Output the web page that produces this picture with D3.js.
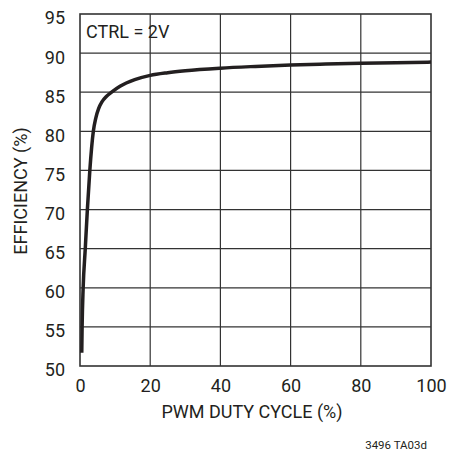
<!DOCTYPE html>
<html><head><meta charset="utf-8">
<script src="https://cdn.jsdelivr.net/npm/d3@7"></script>
<style>
body{margin:0;background:#fff;}
text{font-family:"Liberation Sans Narrow","Roboto","Liberation Sans",sans-serif;fill:#231f20;}
</style></head>
<body><svg id="c" width="451" height="453"></svg>
<script>
const xTicks = [0, 20, 40, 60, 80, 100];
const yTicks = [50, 55, 60, 65, 70, 75, 80, 85, 90, 95];
const duty = [0.5, 0.6, 0.9, 1.5, 2.1, 2.8, 3.8, 4.5, 5.3, 6.3, 7.5, 9, 11.4, 15.6, 20, 25, 30, 40, 50, 60, 70, 80, 90, 100];
const efficiency = [51.7, 55, 60, 65, 70, 75, 80, 81.7, 82.9, 83.8, 84.45, 85.0, 85.75, 86.6, 87.15, 87.5, 87.75, 88.08, 88.3, 88.48, 88.6, 88.7, 88.78, 88.85];
const annotation = "CTRL = 2V";
const xTitle = "PWM DUTY CYCLE (%)";
const yTitle = "EFFICIENCY (%)";
const code = "3496 TA03d";

const svg = d3.select("#c");
const L = 80, R = 431, T = 14, B = 366;
const x = d3.scaleLinear().domain([0, 100]).range([L, R]);
const y = d3.scaleLinear().domain([50, 95]).range([B, T]);

const g = svg.append("g");
g.selectAll(".vg").data(xTicks.slice(1, -1)).enter().append("line")
  .attr("x1", d => x(d)).attr("x2", d => x(d)).attr("y1", T).attr("y2", B)
  .attr("stroke", "#333").attr("stroke-width", 1.2);
g.selectAll(".hg").data(yTicks.slice(1, -1)).enter().append("line")
  .attr("x1", L).attr("x2", R).attr("y1", d => y(d)).attr("y2", d => y(d))
  .attr("stroke", "#333").attr("stroke-width", 1.2);
g.append("rect").attr("x", L).attr("y", T).attr("width", R - L).attr("height", B - T)
  .attr("fill", "none").attr("stroke", "#333").attr("stroke-width", 1.6);

const xa = svg.append("g").attr("transform", `translate(0,${B})`)
  .call(d3.axisBottom(x).tickValues(xTicks).tickSize(0).tickPadding(13).tickFormat(d3.format("d")));
xa.select(".domain").remove();
xa.selectAll("text").style("font-size", "18px").style("font-family", null);
const ya = svg.append("g").attr("transform", `translate(${L},0)`)
  .call(d3.axisLeft(y).tickValues(yTicks).tickSize(0).tickPadding(15).tickFormat(d3.format("d")));
ya.select(".domain").remove();
ya.selectAll("text").style("font-size", "18px").style("font-family", null).attr("dy", "0.55em");

const line = d3.line().x((d, i) => x(duty[i])).y(d => y(d)).curve(d3.curveMonotoneX);
svg.append("path").datum(efficiency).attr("d", line)
  .attr("fill", "none").attr("stroke", "#231f20").attr("stroke-width", 3.5).attr("stroke-linecap", "butt");

svg.append("text").attr("x", 86).attr("y", 38).style("font-size", "18px").text(annotation);
svg.append("text").attr("x", 252).attr("y", 418).attr("text-anchor", "middle").style("font-size", "18px").text(xTitle);
svg.append("text").attr("transform", "translate(27,191) rotate(-90)").attr("text-anchor", "middle").style("font-size", "18px").text(yTitle);
svg.append("text").attr("x", 427).attr("y", 449).attr("text-anchor", "end").style("font-size", "11.5px").text(code);
</script></body></html>
